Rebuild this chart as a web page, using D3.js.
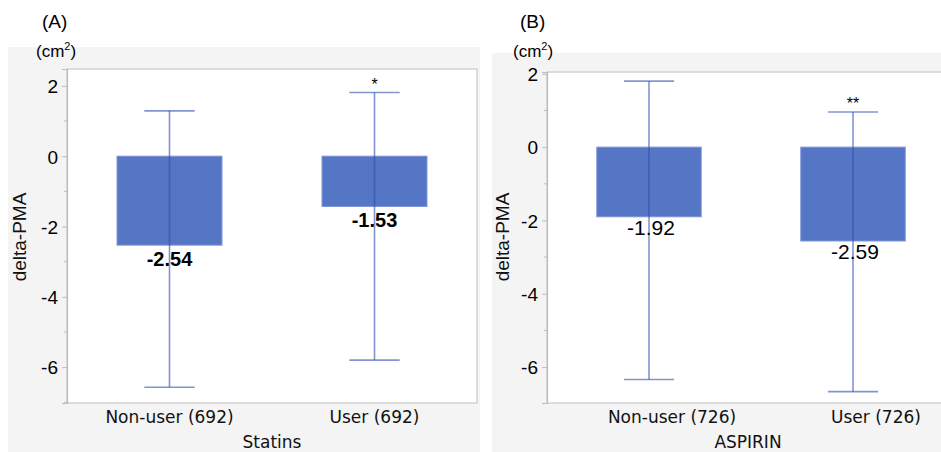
<!DOCTYPE html>
<html>
<head>
<meta charset="utf-8">
<script src="https://cdn.jsdelivr.net/npm/d3@7"></script>
<style>
    body { margin: 0; background: #ffffff; }
    svg { display: block; }
</style>
</head>
<body>
<svg id="chart" width="941" height="452"></svg>
<script>
//chart values
var yTicks = [2, 0, -2, -4, -6];
var yMinorTicks = [1, -1, -3, -5, -7];

var statinsCats = ['Non-user (692)', 'User (692)'];
var statinsMeans = [-2.53, -1.43];
var statinsMeanLabels = ['-2.54', '-1.53'];
var statinsUpper = [1.29, 1.81];
var statinsLower = [-6.57, -5.80];
var statinsSig = ['', '*'];

var aspirinCats = ['Non-user (726)', 'User (726)'];
var aspirinMeans = [-1.90, -2.56];
var aspirinMeanLabels = ['-1.92', '-2.59'];
var aspirinUpper = [1.80, 0.96];
var aspirinLower = [-6.34, -6.67];
var aspirinSig = ['', '**'];

var svg = d3.select('#chart');

//draws one panel
function drawPanel(p) {
    var g = svg.append('g');

    //gray panel background
    g.append('rect')
        .attr('x', p.bg[0]).attr('y', p.bg[1])
        .attr('width', p.bg[2]).attr('height', p.bg[3])
        .attr('fill', '#f4f4f4');

    var x = d3.scaleBand().domain(p.cats).range([p.left, p.right])
        .paddingInner(0.488).paddingOuter(0.244);
    var y = d3.scaleLinear().domain(p.domain).range([p.bottom, p.top]);

    //white plot area
    g.append('rect')
        .attr('x', p.left).attr('y', p.top)
        .attr('width', p.right - p.left).attr('height', p.bottom - p.top)
        .attr('fill', '#ffffff')
        .attr('stroke', '#c9c9c9').attr('stroke-width', 1.2);

    //minor ticks
    g.selectAll('.minor').data(yMinorTicks.filter(function (d) { return d > p.domain[0]; }))
        .enter().append('line')
        .attr('x1', p.left - 3).attr('x2', p.left)
        .attr('y1', function (d) { return y(d); }).attr('y2', function (d) { return y(d); })
        .attr('stroke', '#bdbdbd');

    //y axis, plain hyphen for negatives
    var axis = g.append('g')
        .attr('transform', 'translate(' + p.left + ',0)')
        .call(d3.axisLeft(y).tickValues(yTicks).tickSize(5).tickPadding(4)
            .tickFormat(function (d) { return String(d); }));
    axis.select('.domain').attr('stroke', '#bdbdbd').attr('stroke-width', 1.2);
    axis.selectAll('.tick line').attr('stroke', '#bdbdbd');
    axis.selectAll('.tick text')
        .attr('fill', '#000')
        .style('font-family', 'Liberation Sans, Arial, sans-serif')
        .style('font-size', '19px')
        .attr('dy', '0.36em');

    var idx = d3.range(p.cats.length);

    //bars
    g.selectAll('.bar').data(idx).enter().append('rect')
        .attr('x', function (i) { return x(p.cats[i]); })
        .attr('y', y(0))
        .attr('width', x.bandwidth())
        .attr('height', function (i) { return y(p.means[i]) - y(0); })
        .attr('fill', '#5576c4')
        .attr('stroke', '#7d94d6').attr('stroke-width', 1);

    var cx = function (i) { return x(p.cats[i]) + x.bandwidth() / 2; };
    var cap = x.bandwidth() * 0.24;

    //error bars
    g.selectAll('.err').data(idx).enter().append('line')
        .attr('x1', cx).attr('x2', cx)
        .attr('y1', function (i) { return y(p.upper[i]); })
        .attr('y2', function (i) { return y(p.lower[i]); })
        .attr('stroke', '#2f4fae').attr('stroke-opacity', 0.6).attr('stroke-width', 1.6);
    [p.upper, p.lower].forEach(function (arr) {
        g.selectAll(null).data(idx).enter().append('line')
            .attr('x1', function (i) { return cx(i) - cap; })
            .attr('x2', function (i) { return cx(i) + cap; })
            .attr('y1', function (i) { return y(arr[i]); })
            .attr('y2', function (i) { return y(arr[i]); })
            .attr('stroke', '#2f4fae').attr('stroke-opacity', 0.6).attr('stroke-width', 1.6);
    });

    //significance marks
    g.selectAll('.sig').data(idx).enter().append('text')
        .attr('x', cx)
        .attr('y', function (i) { return y(p.upper[i]) - 3; })
        .attr('text-anchor', 'middle')
        .style('font-family', 'Liberation Sans, Arial, sans-serif')
        .style('font-size', '16px')
        .text(function (i) { return p.sig[i]; });

    //mean labels
    g.selectAll('.val').data(idx).enter().append('text')
        .attr('x', function (i) { return cx(i) + p.valDx; })
        .attr('y', function (i) { return y(p.means[i]) + p.valDy; })
        .attr('text-anchor', 'middle')
        .attr('fill', '#000')
        .style('font-family', 'Liberation Sans, Arial, sans-serif')
        .style('font-size', p.valSize)
        .style('font-weight', p.valWeight)
        .text(function (i) { return p.meanLabels[i]; });

    //category labels
    g.selectAll('.cat').data(idx).enter().append('text')
        .attr('x', function (i) { return cx(i) + p.catDx; })
        .attr('y', 423)
        .attr('text-anchor', 'middle')
        .attr('fill', '#111')
        .style('font-family', 'DejaVu Sans, Verdana, sans-serif')
        .style('font-size', '17px')
        .text(function (i) { return p.cats[i]; });

    //x title
    g.append('text')
        .attr('x', p.titleX).attr('y', 448)
        .attr('text-anchor', 'middle')
        .attr('fill', '#111')
        .style('font-family', 'DejaVu Sans, Verdana, sans-serif')
        .style('font-size', '17px')
        .text(p.title);

    //y title
    g.append('text')
        .attr('transform', 'translate(' + p.yTitleX + ',237) rotate(-90)')
        .attr('text-anchor', 'middle')
        .attr('fill', '#111')
        .style('font-family', 'Liberation Sans, Arial, sans-serif')
        .style('font-size', '19px')
        .text('delta-PMA');

    //unit label
    var unit = g.append('text')
        .attr('x', p.unitX).attr('y', 57)
        .attr('fill', '#000')
        .style('font-family', 'Liberation Sans, Arial, sans-serif')
        .style('font-size', '17px');
    unit.append('tspan').text('(cm');
    unit.append('tspan').attr('dy', -7).style('font-size', '11px').text('2');
    unit.append('tspan').attr('dy', 7).text(')');

    //panel letter
    g.append('text')
        .attr('x', p.letterX).attr('y', 28)
        .attr('fill', '#000')
        .style('font-family', 'Liberation Sans, Arial, sans-serif')
        .style('font-size', '19px')
        .text(p.letter);
}

drawPanel({
    letter: '(A)', letterX: 42, unitX: 36, yTitleX: 26, title: 'Statins', titleX: 272,
    bg: [8, 47, 472, 405],
    left: 67, right: 477, top: 69, bottom: 403, domain: [-7.02, 2.48],
    cats: statinsCats, means: statinsMeans, meanLabels: statinsMeanLabels,
    upper: statinsUpper, lower: statinsLower, sig: statinsSig,
    valDx: 0, valDy: 21, valSize: '20px', valWeight: 'bold', catDx: 0
});

drawPanel({
    letter: '(B)', letterX: 520, unitX: 513, yTitleX: 509, title: 'ASPIRIN', titleX: 748,
    bg: [492, 53, 449, 399],
    left: 547, right: 955, top: 72, bottom: 403, domain: [-6.98, 2.05],
    cats: aspirinCats, means: aspirinMeans, meanLabels: aspirinMeanLabels,
    upper: aspirinUpper, lower: aspirinLower, sig: aspirinSig,
    valDx: 2, valDy: 18, valSize: '21px', valWeight: 'normal', catDx: 23
});
</script>
</body>
</html>
